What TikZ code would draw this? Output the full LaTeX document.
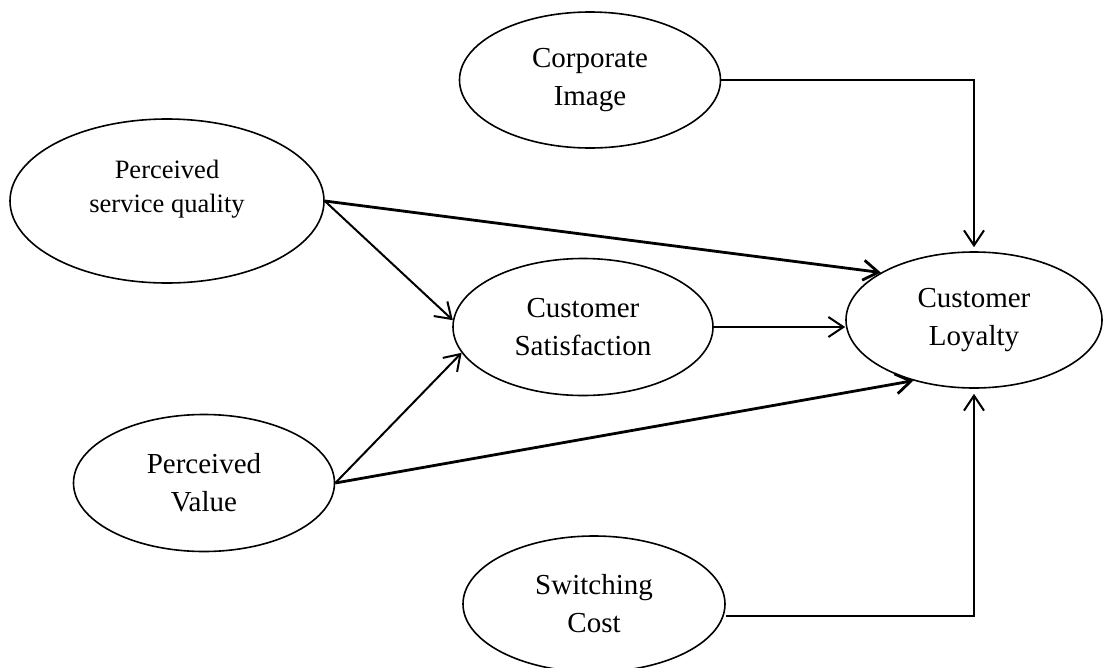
\documentclass[tikz,border=0pt]{standalone}
\usepackage{fontspec}
\setmainfont{Liberation Serif}
\usetikzlibrary{shapes.geometric,arrows.meta,calc}
\begin{document}
\begin{tikzpicture}[x=1pt,y=-1pt,
  latent/.style={draw, ellipse, line width=1.6pt, inner sep=0pt, align=center,
                 font=\fontsize{29}{38}\selectfont},
  link/.style={line width=2pt, -{Straight Barb[length=15pt,width=20pt]}},
  heavy/.style={link, line width=2.8pt}]
\useasboundingbox (0,0) rectangle (1106,667);

\node[latent, minimum width=261pt, minimum height=136pt] (CI) at (590,80) {Corporate\\Image};
\node[latent, minimum width=314pt, minimum height=164pt] (PSQ) at (167,201) {};
\node[font=\fontsize{26.5}{34}\selectfont, align=center, inner sep=0pt] (PSQt) at (167,189) {Perceived\\service quality};
\node[latent, minimum width=260pt, minimum height=137pt] (CS) at (583,327) {Customer\\Satisfaction};
\node[latent, minimum width=256pt, minimum height=136pt] (CL) at (974,320) {Customer\\Loyalty};
\node[latent, minimum width=261pt, minimum height=137pt] (PV) at (204,483) {Perceived\\Value};
\node[latent, minimum width=262pt, minimum height=136pt] (SC) at (594,604) {Switching\\Cost};

\draw[link] (CI.east) -| ([yshift=4pt]CL.north);
\draw[link] ([yshift=-12pt]SC.east) -| ([yshift=-5pt]CL.south);
\draw[link] (CS.east) -- (CS.east -| CL.west);
\draw[heavy] (PSQ.east) -- (CL.153);
\draw[link] (PSQ.east) -- (CS.177);
\draw[link] (PV.east) -- (CS.192);
\draw[heavy] (PV.east) -- (CL.225);
\end{tikzpicture}
\end{document}
